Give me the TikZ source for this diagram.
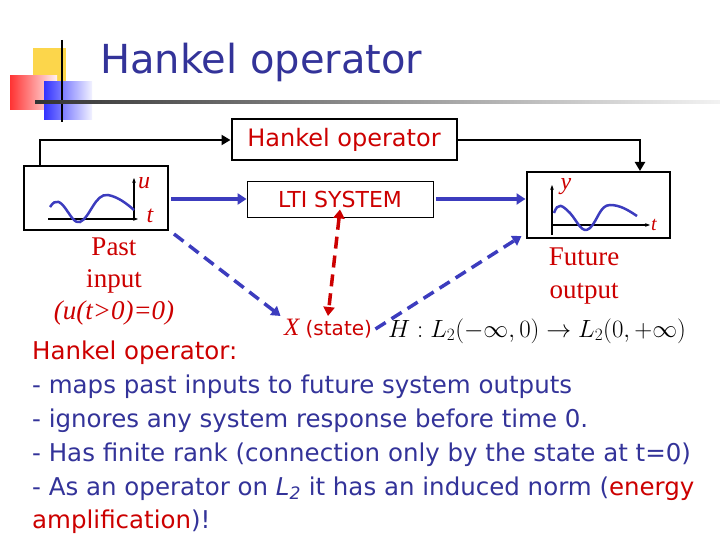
\documentclass[tikz,border=0pt]{standalone}
\usepackage{fontspec}
\setmainfont{DejaVu Sans}
\newfontfamily\serifrm{Liberation Serif}
\usetikzlibrary{arrows.meta,positioning,shadings}
\definecolor{dkblue}{RGB}{51,51,153}
\definecolor{arblue}{RGB}{60,60,190}
\definecolor{dkred}{RGB}{204,0,0}
\tikzset{
  blk/.style={draw,line width=2pt,inner sep=0pt},
  blu/.style={arblue,line width=3.5pt,-{Triangle[length=9pt,width=11pt]}},
  dsh/.style={blu,dash pattern=on 12pt off 7pt},
  body/.style={anchor=west,inner sep=0pt,font=\fontsize{24.5}{24.5}\selectfont},
  lbl/.style={text=dkred,font=\serifrm\itshape\fontsize{24}{24}\selectfont}
}
\begin{document}
\begin{tikzpicture}[x=1pt,y=-1pt]
  \useasboundingbox (0,0) rectangle (720,540);
  % title decoration
  \fill[yellow!60!orange!70] (33,48) rectangle (66,84);
  \shade[left color=red!80, right color=red!5] (10,76) rectangle (57,110);
  \shade[left color=blue!80, right color=blue!5] (44,82) rectangle (92,120);
  \draw[line width=1.5pt] (62,40) -- (62,122);
  \shade[left color=black!80, right color=black!5] (35,101) rectangle (720,104);
  \node[anchor=west,inner sep=0pt,dkblue,font=\fontsize{40}{40}\selectfont] (title) at (100,62) {Hankel operator};

  % blocks
  \node[blk,minimum width=225pt,minimum height=41pt,text=dkred,font=\fontsize{24}{24}\selectfont] (hank) at (344,140) {Hankel operator};
  \node[draw,line width=0.8pt,minimum width=186pt,minimum height=36pt,font=\fontsize{22}{22}\selectfont,text=dkred] (lti) at (340,199) {LTI SYSTEM};
  \node[blk,minimum width=144pt,minimum height=64pt] (inp) at (96,198) {};
  \node[blk,minimum width=143pt,minimum height=66pt] (outp) at (598,205) {};

  % waveforms
  \draw[line width=1.5pt,-{Stealth[length=5pt]}] (48,219) -- (138,219);
  \draw[line width=1.5pt,-{Stealth[length=5pt]}] (134,219) -- (134,178);
  \draw[arblue,line width=2.5pt] (50,207) .. controls (62,188) and (70,226) .. (80,222) .. controls (90,218) and (95,193) .. (108,195) .. controls (118,197) and (126,203) .. (134,210);
  \node[lbl] (ulab) at (144,183) {u};
  \node[lbl] (tlab) at (150,216) {t};
  \draw[line width=1.5pt,-{Stealth[length=5pt]}] (552,225) -- (650,225);
  \draw[line width=1.5pt,-{Stealth[length=5pt]}] (552,235) -- (552,185);
  \draw[arblue,line width=2.5pt] (554,213) .. controls (558,202) and (562,205) .. (570,213) .. controls (578,222) and (582,235) .. (590,228) .. controls (598,220) and (600,205) .. (610,205) .. controls (620,205) and (628,210) .. (637,216);
  \node[lbl] (ylab) at (566,187) {y};
  \node[lbl,font=\serifrm\itshape\fontsize{20}{20}\selectfont] (tlab2) at (654,225) {t};

  % labels
  \node[text=dkred,align=center,font=\serifrm\fontsize{27}{32}\selectfont] (past) at (114,282) {Past\\input\\\textit{(u(t>0)=0)}};
  \node[text=dkred,align=center,font=\serifrm\fontsize{27}{33}\selectfont] (fut) at (584,276) {Future\\output};
  \node[text=dkred,font=\fontsize{20}{20}\selectfont] (state) at (328,329) {{\serifrm\itshape\fontsize{25}{25}\selectfont X}\ (state)};
  \node[anchor=west,inner sep=0pt] (hmap) at (388,331) {\fontsize{25}{25}\selectfont$H: L_2(-\infty,0)\rightarrow L_2(0,+\infty)$};

  % connectors
  \coordinate (c1) at (40,140);
  \coordinate (c2) at (640,140);
  \draw[line width=2.5pt,-{Triangle[length=9pt,width=10pt]}] (inp.north west -| c1) -- (c1) -- (hank.west);
  \draw[line width=2.5pt,-{Triangle[length=9pt,width=10pt]}] (hank.east) -- (c2) -- (outp.north -| c2);
  \draw[blu] ([xshift=2pt]inp.east |- lti.west) -- (lti.west);
  \draw[blu] (lti.east) ++(3,0) -- (lti.east -| outp.west);
  \draw[dsh] (inp.south east) ++(5,3) -- (state.north west);
  \draw[dsh] (state.east) -- ([xshift=-4pt,yshift=3pt]outp.south west);
  \draw[dkred,line width=3.5pt,dash pattern=on 12pt off 7pt,{Triangle[length=9pt,width=11pt]}-{Triangle[length=9pt,width=11pt]}] ([yshift=8pt]lti.south) -- (state.north);

  % text lines
  \node[body,text=dkred] (l0) at (32,353) {Hankel operator:};
  \node[body,text=dkblue] (l1) at (32,387) {- maps past inputs to future system outputs};
  \node[body,text=dkblue] (l2) at (32,421) {- ignores any system response before time 0.};
  \node[body,text=dkblue] (l3) at (32,455) {- Has finite rank (connection only by the state at t=0)};
  \node[body,text=dkblue] (l4) at (32,489) {- As an operator on \textit{L\textsubscript{2}} it has an induced norm (\textcolor{dkred}{energy}};
  \node[body,text=dkred] (l5) at (32,522) {amplification\textcolor{dkblue}{)!}};
\end{tikzpicture}
\end{document}
